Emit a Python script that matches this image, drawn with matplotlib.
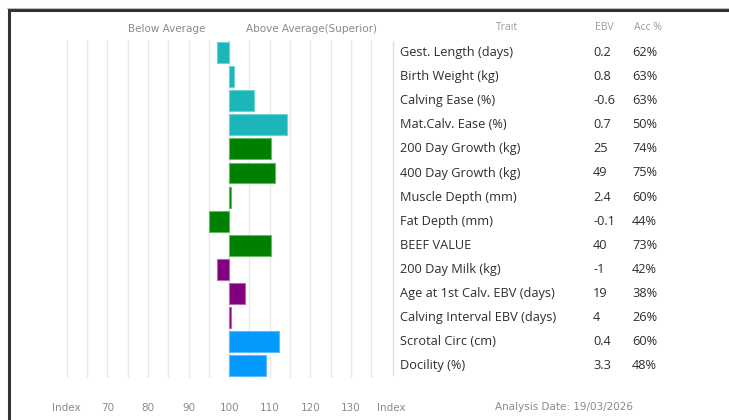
import numpy as np
import matplotlib.pyplot as plt
import matplotlib.transforms as mtransforms
from matplotlib.patches import Rectangle
from matplotlib.lines import Line2D

traits = ["Gest. Length (days)", "Birth Weight (kg)", "Calving Ease (%)",
          "Mat.Calv. Ease (%)", "200 Day Growth (kg)", "400 Day Growth (kg)",
          "Muscle Depth (mm)", "Fat Depth (mm)", "BEEF VALUE", "200 Day Milk (kg)",
          "Age at 1st Calv. EBV (days)", "Calving Interval EBV (days)",
          "Scrotal Circ (cm)", "Docility (%)"]
ebv = ["0.2", "0.8", "-0.6", "0.7", "25", "49", "2.4", "-0.1", "40", "-1",
       "19", "4", "0.4", "3.3"]
acc = ["62%", "63%", "63%", "50%", "74%", "75%", "60%", "44%", "73%", "42%",
       "38%", "26%", "60%", "48%"]
index = [97, 101.2, 106, 114.3, 110.3, 111.3, 100.5, 95, 110.3, 97, 104, 100.5, 112.3, 109]
groups = ["teal"] * 4 + ["green"] * 5 + ["purple"] * 3 + ["blue"] * 2
group_colors = {"teal": "#1cb5b8", "green": "#008000", "purple": "#800080", "blue": "#0499fc"}
edge_colors = {"teal": "#6fd3d4", "green": "#5fbf5f", "purple": "#b36bb3", "blue": "#5cbcff"}

tick_pos = [60, 70, 80, 90, 100, 110, 120, 130, 140]
tick_labels = ["Index", "70", "80", "90", "100", "110", "120", "130", "Index"]

W, H = 729, 420
fig = plt.figure(figsize=(W / 100, H / 100), dpi=100)

def fx(px):
    return px / W

def fy(py):
    return 1 - py / H

ax = fig.add_axes([fx(66.7), fy(377.85), fx(391.6 - 66.7), (377.85 - 40.45) / H])
ax.set_xlim(60, 140)
ax.set_ylim(len(traits) - 0.5, -0.5)

for g in np.arange(60, 136, 5):
    ax.axvline(g, color="#e9e9e9", lw=1, zorder=0)

y = np.arange(len(traits))
lefts = [min(v, 100) for v in index]
widths = [abs(v - 100) for v in index]
ax.barh(y, widths, left=lefts, height=0.87,
        color=[group_colors[g] for g in groups],
        edgecolor=[edge_colors[g] for g in groups], linewidth=0.8, zorder=2)

for s in ax.spines.values():
    s.set_visible(False)
ax.set_yticks([])
ax.set_xticks(tick_pos)
ax.set_xticklabels(tick_labels, fontsize=7.5, color="#8a8a8a")
ax.tick_params(axis="x", length=0, pad=18)

# headers
fig.text(fx(167), fy(29), "Below Average", fontsize=7.5, color="#8a8a8a", ha="center", va="center")
fig.text(fx(311), fy(29), "Above Average(Superior)", fontsize=7.5, color="#8a8a8a", ha="center", va="center")
hfont = "Open Sans"
fig.text(fx(507), fy(27), "Trait", fontsize=7.5, color="#9a9a9a", ha="center", va="center", family=hfont)
fig.text(fx(604), fy(27), "EBV", fontsize=7.5, color="#9a9a9a", ha="center", va="center", family=hfont)
fig.text(fx(648), fy(27), "Acc %", fontsize=7.5, color="#9a9a9a", ha="center", va="center", family=hfont)

# table
tr = mtransforms.blended_transform_factory(fig.transFigure, ax.transData)
for i in range(len(traits)):
    ax.text(fx(400), i, traits[i], transform=tr, fontsize=9.2, color="#2e2e2e",
            va="center", ha="left", family=hfont, clip_on=False)
    ax.text(fx(593), i, ebv[i], transform=tr, fontsize=9.2, color="#2e2e2e",
            va="center", ha="left", family=hfont, clip_on=False)
    ax.text(fx(632), i, acc[i], transform=tr, fontsize=9.2, color="#2e2e2e",
            va="center", ha="left", family=hfont, clip_on=False)

fig.add_artist(Line2D([fx(393), fx(393)], [fy(42), fy(375)], color="#dddddd", lw=1))

fig.text(fx(495), fy(407), "Analysis Date: 19/03/2026", fontsize=7.5, color="#8a8a8a",
         ha="left", va="center")

# outer frame
fig.add_artist(Rectangle((fx(8.5), -0.1), 1.2, fy(10) + 0.1, transform=fig.transFigure,
                         fill=False, edgecolor="#333333", lw=2.2))
fig.add_artist(Line2D([fx(7), 1], [fy(7.5), fy(7.5)], color="#bbbbbb", lw=0.8))

fig.savefig("out.png", dpi=100)
